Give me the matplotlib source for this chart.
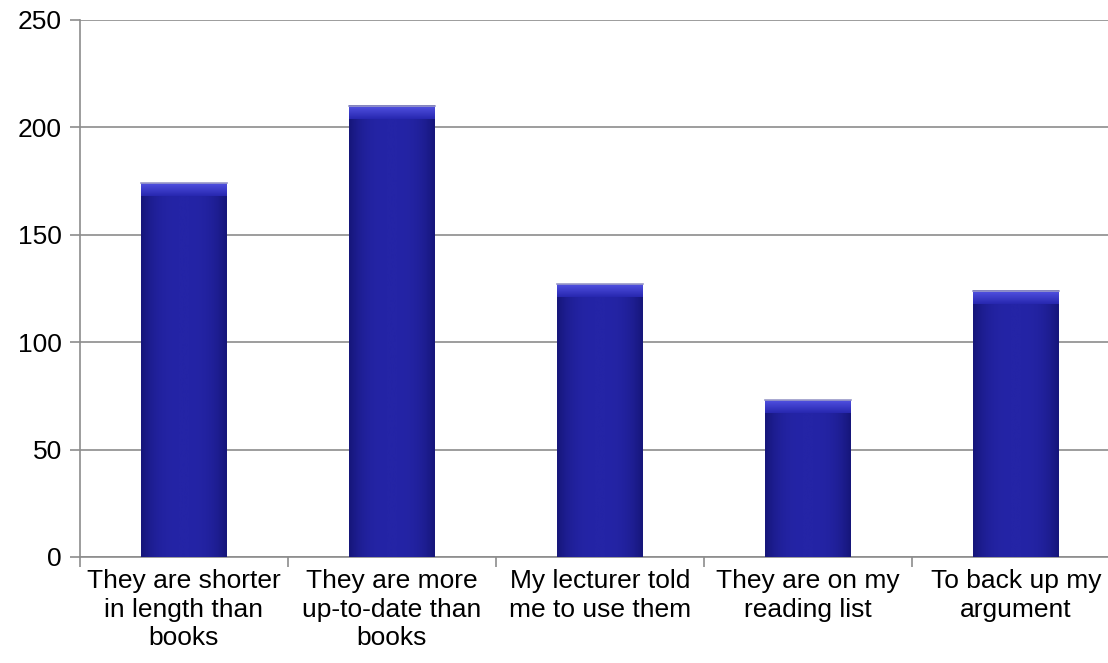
import matplotlib
matplotlib.use('Agg')
from matplotlib import pyplot as plt
import numpy as np

plt.rcParams['font.family'] = ['Liberation Sans', 'DejaVu Sans']

# Data
categories = ['They are shorter\nin length than\nbooks',
              'They are more\nup-to-date than\nbooks',
              'My lecturer told\nme to use them',
              'They are on my\nreading list',
              'To back up my\nargument']
values = [174, 210, 127, 73, 124]

fig = plt.figure(figsize=(11.08, 6.63), dpi=100)
# plot area runs a little past the right edge of the picture
ax = fig.add_axes([0.0722, 0.1599, 0.9386, 0.8100])

x = np.arange(len(categories))
width = 0.41
bars = ax.bar(x, values, width=width, color='#20209c', edgecolor='none', zorder=2)

# bevelled gradient fill for each bar
grad = np.linspace(0, 1, 64)
shade = 1 - np.abs(grad - 0.5) ** 3 * 8
body = matplotlib.colors.LinearSegmentedColormap.from_list(
    'bar', ['#16167a', '#2424a6'])
topc = matplotlib.colors.LinearSegmentedColormap.from_list(
    'top', ['#2828b0', '#5050e0'])
for b in bars:
    x0, w, h = b.get_x(), b.get_width(), b.get_height()
    ax.imshow(shade[np.newaxis, :], cmap=body, aspect='auto', vmin=0, vmax=1,
              extent=(x0, x0 + w, 0, h), zorder=3, interpolation='bicubic')
    # top bevel highlight
    top = np.linspace(0, 1, 16)[:, np.newaxis] * np.ones((1, 64))
    ax.imshow(top, cmap=topc, aspect='auto', origin='lower',
              extent=(x0, x0 + w, h - 6, h), zorder=4, interpolation='bicubic')
    ax.plot([x0, x0 + w], [h, h], color='#9a9ac8', lw=1.2, zorder=5)

ax.set_xlim(-0.5, len(categories) - 0.5)
ax.set_ylim(0, 250)
ax.set_yticks(np.arange(0, 251, 50))
ax.yaxis.grid(True, color='#8c8c8c', lw=1.2, zorder=0)
ax.set_axisbelow(True)

ax.set_xticks(np.arange(-0.5, len(categories), 1))
ax.set_xticklabels([])
ax.set_xticks(x, minor=True)
ax.set_xticklabels(categories, minor=True, fontsize=19, linespacing=1.22)
ax.tick_params(axis='x', which='minor', length=0, pad=9)
ax.tick_params(axis='x', which='major', length=7, width=1.2, color='#8c8c8c')
ax.tick_params(axis='y', length=7, width=1.2, color='#8c8c8c', labelsize=19, pad=6)

for s in ['top', 'right']:
    ax.spines[s].set_visible(False)
for s in ['left', 'bottom']:
    ax.spines[s].set_color('#8c8c8c')
    ax.spines[s].set_linewidth(1.2)

fig.savefig('out.png', dpi=100)
